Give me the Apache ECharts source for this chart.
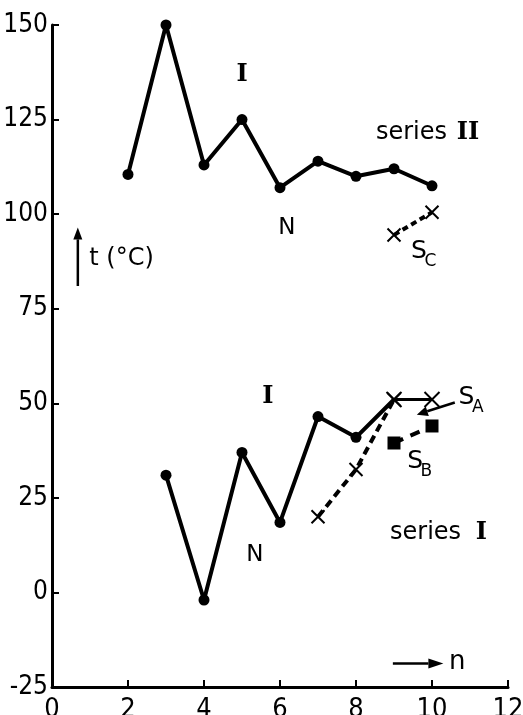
<!DOCTYPE html>
<html><head><meta charset="utf-8">
<script src="https://cdn.jsdelivr.net/npm/echarts@6/dist/echarts.min.js"></script>
<style>html,body{margin:0;padding:0;background:#fff}#c{width:523px;height:715px}</style>
</head><body><div id="c"></div>
<script>
// ---- data ----
const nII = [2, 3, 4, 5, 6, 7, 8, 9, 10];
const tII = [110.5, 150, 113, 125, 107, 114, 110, 112, 107.5];
const nI = [3, 4, 5, 6, 7, 8, 9];
const tI = [31, -2, 37, 18.5, 46.5, 41, 51];
const nSA = [9, 10];
const tSA = [51, 51];
const nSD = [7, 8, 9];
const tSD = [20, 32.5, 51];
const nSB = [9, 10];
const tSB = [39.5, 44];
const nSC = [9, 10];
const tSC = [94.5, 100.5];
const xTicks = [0, 2, 4, 6, 8, 10, 12];
const yTicks = [-25, 0, 25, 50, 75, 100, 125, 150];

const pts = (xs, ys) => xs.map((x, i) => [x, ys[i]]);
const CROSS = 'path://M0,0L10,10M10,0L0,10';
const tickFont = '"DejaVu Sans Condensed", "Liberation Sans Narrow", sans-serif';

const chart = echarts.init(document.getElementById('c'));
chart.setOption({
  animation: false,
  grid: { left: 52, right: 15, top: 25, bottom: 28, outerBoundsMode: 'none', containLabel: false },
  xAxis: {
    type: 'value', min: xTicks[0], max: xTicks[xTicks.length - 1], interval: 2,
    axisLine: { onZero: false, lineStyle: { color: '#000', width: 3 } },
    axisTick: { inside: true, length: 7, lineStyle: { color: '#000', width: 2 } },
    axisLabel: { color: '#000', fontSize: 27, fontFamily: tickFont, margin: 9 },
    splitLine: { show: false }
  },
  yAxis: {
    type: 'value', min: yTicks[0], max: yTicks[yTicks.length - 1], interval: 25,
    axisLine: { show: true, onZero: false, lineStyle: { color: '#000', width: 3 } },
    axisTick: { show: true, inside: true, length: 7, lineStyle: { color: '#000', width: 2 } },
    axisLabel: { color: '#000', fontSize: 26, fontFamily: tickFont, margin: 4 },
    splitLine: { show: false }
  },
  series: [
    { type: 'line', data: pts(nII, tII), symbol: 'circle', symbolSize: 11,
      itemStyle: { color: '#000' }, lineStyle: { color: '#000', width: 4 } },
    { type: 'line', data: pts(nI, tI).map((p, i, a) => i === a.length - 1 ? { value: p, symbol: 'none' } : p),
      symbol: 'circle', symbolSize: 11,
      itemStyle: { color: '#000' }, lineStyle: { color: '#000', width: 4 } },
    { type: 'line', data: pts(nSD, tSD), symbol: CROSS, symbolSize: 13,
      itemStyle: { color: 'none', borderColor: '#000', borderWidth: 2 },
      lineStyle: { color: '#000', width: 4, type: [8, 5] } },
    { type: 'line', data: pts(nSA, tSA), symbol: CROSS, symbolSize: 15,
      itemStyle: { color: 'none', borderColor: '#000', borderWidth: 2 },
      lineStyle: { color: '#000', width: 3 } },
    { type: 'line', data: pts(nSB, tSB), symbol: 'rect', symbolSize: 13,
      itemStyle: { color: '#000' }, lineStyle: { color: '#000', width: 4, type: [10, 8] } },
    { type: 'line', data: pts(nSC, tSC), symbol: CROSS, symbolSize: 13,
      itemStyle: { color: 'none', borderColor: '#000', borderWidth: 2 },
      lineStyle: { color: '#000', width: 4, type: [6, 4] } }
  ]
});

const P = (x, y) => chart.convertToPixel({ gridIndex: 0 }, [x, y]);
function txt(x, y, str, font, size, align, weight) {
  const p = P(x, y);
  return { type: 'text', x: p[0], y: p[1],
    style: { text: str, fill: '#000', fontFamily: font, fontSize: size, fontWeight: weight || 'normal',
      align: align || 'center', verticalAlign: 'middle' } };
}
function arrow(x1, y1, x2, y2, w, hl, hw) {
  const a = P(x1, y1), b = P(x2, y2);
  const dx = b[0] - a[0], dy = b[1] - a[1], L = Math.hypot(dx, dy);
  const ux = dx / L, uy = dy / L;
  const bx = b[0] - ux * hl, by = b[1] - uy * hl;
  return [
    { type: 'line', shape: { x1: a[0], y1: a[1], x2: bx, y2: by }, style: { stroke: '#000', lineWidth: w } },
    { type: 'polygon', shape: { points: [b, [bx - uy * hw, by + ux * hw], [bx + uy * hw, by - ux * hw]] }, style: { fill: '#000' } }
  ];
}
const SER = 'DejaVu Serif';
const SAN = 'DejaVu Sans';
const g = [
  txt(5.0, 136.8, 'I', SER, 24, 'center', 'bold'),
  txt(6.18, 96.3, 'N', SAN, 23),
  txt(9.46, 121.4, 'series', SAN, 24),
  txt(10.95, 121.4, 'II', SER, 24, 'center', 'bold'),
  txt(9.45, 90, 'S', SAN, 25, 'left'),
  txt(9.8, 87.5, 'C', SAN, 17, 'left'),
  txt(5.68, 51.6, 'I', SER, 24, 'center', 'bold'),
  txt(5.34, 9.8, 'N', SAN, 23),
  txt(9.83, 15.9, 'series', SAN, 24),
  txt(11.3, 15.9, 'I', SER, 24, 'center', 'bold'),
  txt(10.7, 51.6, 'S', SAN, 25, 'left'),
  txt(11.05, 48.8, 'A', SAN, 17, 'left'),
  txt(9.35, 34.5, 'S', SAN, 25, 'left'),
  txt(9.7, 32, 'B', SAN, 17, 'left'),
  txt(0.98, 88.3, 't (°C)', SAN, 24, 'left'),
  txt(10.45, -18.5, 'n', SAN, 26, 'left'),
  ...arrow(10.6, 50.2, 9.6, 47, 2.5, 11, 5),
  ...arrow(0.68, 81, 0.68, 96.5, 2.5, 12, 4.5),
  ...arrow(8.97, -18.8, 10.3, -18.8, 2.5, 15, 5)
];
chart.setOption({ graphic: g });
</script></body></html>
